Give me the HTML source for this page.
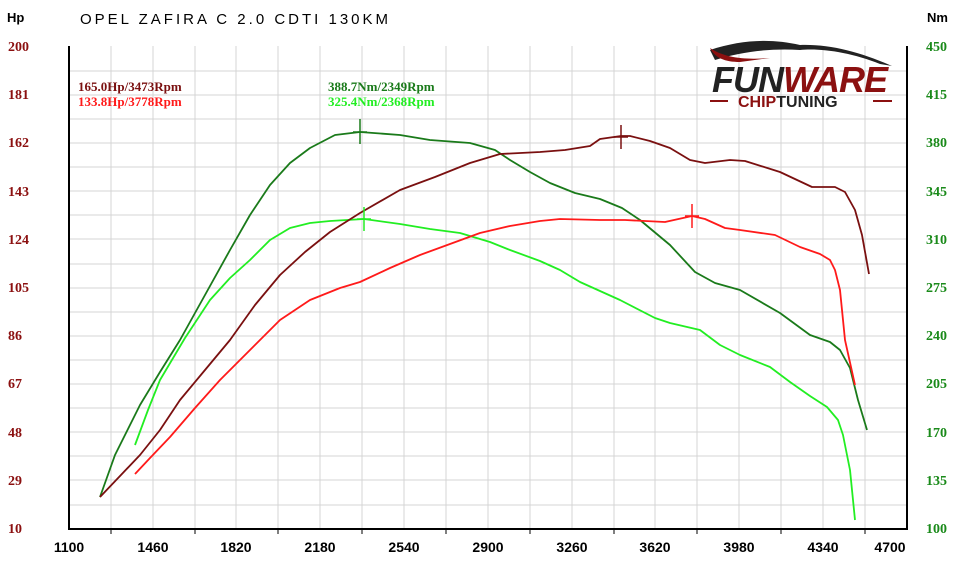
<!DOCTYPE html>
<html><head><meta charset="utf-8"><style>
body{margin:0;background:#fff;}
svg text{font-family:"Liberation Sans",sans-serif;}
</style></head><body>
<svg width="960" height="560" viewBox="0 0 960 560" xmlns="http://www.w3.org/2000/svg">
<rect width="960" height="560" fill="#fff"/>
<g stroke="#d4d4d4" stroke-width="1">
<line x1="111" y1="46" x2="111" y2="528"/><line x1="153" y1="46" x2="153" y2="528"/><line x1="195" y1="46" x2="195" y2="528"/><line x1="236" y1="46" x2="236" y2="528"/><line x1="278" y1="46" x2="278" y2="528"/><line x1="320" y1="46" x2="320" y2="528"/><line x1="362" y1="46" x2="362" y2="528"/><line x1="404" y1="46" x2="404" y2="528"/><line x1="446" y1="46" x2="446" y2="528"/><line x1="488" y1="46" x2="488" y2="528"/><line x1="530" y1="46" x2="530" y2="528"/><line x1="572" y1="46" x2="572" y2="528"/><line x1="614" y1="46" x2="614" y2="528"/><line x1="655" y1="46" x2="655" y2="528"/><line x1="697" y1="46" x2="697" y2="528"/><line x1="739" y1="46" x2="739" y2="528"/><line x1="781" y1="46" x2="781" y2="528"/><line x1="823" y1="46" x2="823" y2="528"/><line x1="865" y1="46" x2="865" y2="528"/>
<line x1="69" y1="71" x2="907" y2="71"/><line x1="69" y1="95" x2="907" y2="95"/><line x1="69" y1="119" x2="907" y2="119"/><line x1="69" y1="143" x2="907" y2="143"/><line x1="69" y1="167" x2="907" y2="167"/><line x1="69" y1="191" x2="907" y2="191"/><line x1="69" y1="215" x2="907" y2="215"/><line x1="69" y1="239" x2="907" y2="239"/><line x1="69" y1="264" x2="907" y2="264"/><line x1="69" y1="288" x2="907" y2="288"/><line x1="69" y1="312" x2="907" y2="312"/><line x1="69" y1="336" x2="907" y2="336"/><line x1="69" y1="360" x2="907" y2="360"/><line x1="69" y1="384" x2="907" y2="384"/><line x1="69" y1="408" x2="907" y2="408"/><line x1="69" y1="432" x2="907" y2="432"/><line x1="69" y1="456" x2="907" y2="456"/><line x1="69" y1="480" x2="907" y2="480"/><line x1="69" y1="505" x2="907" y2="505"/>
</g>
<g stroke="#000" stroke-width="2" fill="none">
<polyline points="69,46 69,529 907,529 907,46"/>
</g>
<g stroke="#000" stroke-width="1">
<line x1="111" y1="529" x2="111" y2="534"/><line x1="195" y1="529" x2="195" y2="534"/><line x1="278" y1="529" x2="278" y2="534"/><line x1="362" y1="529" x2="362" y2="534"/><line x1="446" y1="529" x2="446" y2="534"/><line x1="530" y1="529" x2="530" y2="534"/><line x1="614" y1="529" x2="614" y2="534"/><line x1="697" y1="529" x2="697" y2="534"/><line x1="781" y1="529" x2="781" y2="534"/><line x1="865" y1="529" x2="865" y2="534"/>
</g>
<g font-size="14" font-weight="bold" fill="#000" text-anchor="middle">
<text x="69" y="552">1100</text><text x="153" y="552">1460</text><text x="236" y="552">1820</text><text x="320" y="552">2180</text><text x="404" y="552">2540</text><text x="488" y="552">2900</text><text x="572" y="552">3260</text><text x="655" y="552">3620</text><text x="739" y="552">3980</text><text x="823" y="552">4340</text><text x="890" y="552">4700</text>
</g>
<g font-size="14" font-weight="bold" fill="#8b1010">
<text x="8" y="51" style="font-family:'Liberation Serif',serif">200</text><text x="8" y="99" style="font-family:'Liberation Serif',serif">181</text><text x="8" y="147" style="font-family:'Liberation Serif',serif">162</text><text x="8" y="196" style="font-family:'Liberation Serif',serif">143</text><text x="8" y="244" style="font-family:'Liberation Serif',serif">124</text><text x="8" y="292" style="font-family:'Liberation Serif',serif">105</text><text x="8" y="340" style="font-family:'Liberation Serif',serif">86</text><text x="8" y="388" style="font-family:'Liberation Serif',serif">67</text><text x="8" y="437" style="font-family:'Liberation Serif',serif">48</text><text x="8" y="485" style="font-family:'Liberation Serif',serif">29</text><text x="8" y="533" style="font-family:'Liberation Serif',serif">10</text>
</g>
<g font-size="14" font-weight="bold" fill="#1a8a1a">
<text x="926" y="51" style="font-family:'Liberation Serif',serif">450</text><text x="926" y="99" style="font-family:'Liberation Serif',serif">415</text><text x="926" y="147" style="font-family:'Liberation Serif',serif">380</text><text x="926" y="196" style="font-family:'Liberation Serif',serif">345</text><text x="926" y="244" style="font-family:'Liberation Serif',serif">310</text><text x="926" y="292" style="font-family:'Liberation Serif',serif">275</text><text x="926" y="340" style="font-family:'Liberation Serif',serif">240</text><text x="926" y="388" style="font-family:'Liberation Serif',serif">205</text><text x="926" y="437" style="font-family:'Liberation Serif',serif">170</text><text x="926" y="485" style="font-family:'Liberation Serif',serif">135</text><text x="926" y="533" style="font-family:'Liberation Serif',serif">100</text>
</g>
<text x="7" y="22" font-size="13" font-weight="bold">Hp</text>
<text x="927" y="22" font-size="13" font-weight="bold">Nm</text>
<text x="80" y="24" font-size="15" letter-spacing="3" fill="#000">OPEL ZAFIRA C 2.0 CDTI 130KM</text>
<g font-size="13" font-weight="bold">
<text x="78" y="91" fill="#7a1010" style="font-family:'Liberation Serif',serif">165.0Hp/3473Rpm</text>
<text x="78" y="106" fill="#ff1a1a" style="font-family:'Liberation Serif',serif">133.8Hp/3778Rpm</text>
<text x="328" y="91" fill="#1a7a1a" style="font-family:'Liberation Serif',serif">388.7Nm/2349Rpm</text>
<text x="328" y="106" fill="#22ee22" style="font-family:'Liberation Serif',serif">325.4Nm/2368Rpm</text>
</g>
<path d="M710,50 C740,40 770,38 800,45 C830,44 860,52 892,66 L880,64 C850,52 820,48 800,50 C770,48 740,52 715,60 Z" fill="#222"/>
<path d="M710,48 C725,58 745,60 770,58 L740,62 C725,62 715,58 710,48 Z" fill="#8b1010"/>
<text x="712" y="92" font-size="36" font-weight="bold" font-style="italic" fill="#222" letter-spacing="-1">FUN<tspan fill="#8b1010">WARE</tspan></text>
<text x="738" y="107" font-size="16" font-weight="bold" fill="#8b1010">CHIP<tspan fill="#222">TUNING</tspan></text>
<line x1="710" y1="101" x2="728" y2="101" stroke="#8b1010" stroke-width="2"/>
<line x1="873" y1="101" x2="892" y2="101" stroke="#8b1010" stroke-width="2"/>
<g fill="none" stroke-width="1.8" stroke-linejoin="round">
<polyline stroke="#22ee22" points="135,445 148,410 160,380 185,338 210,300 230,278 250,260 270,240 290,228 310,223 330,221 364,219 400,224 430,229 460,233 490,242 510,250 540,261 560,270 580,282 600,291 620,300 655,318 670,323 700,330 720,345 740,355 770,367 790,382 810,396 827,407 838,420 843,435 850,470 855,520"/>
<polyline stroke="#1a7a1a" points="100,497 115,455 140,405 160,372 180,340 205,295 230,250 250,215 270,185 290,163 310,148 335,135 360,132 400,135 430,140 470,143 495,150 510,160 530,172 550,183 575,193 600,199 622,208 640,220 670,245 695,272 715,283 740,290 780,313 810,335 830,342 840,350 850,368 858,400 867,430"/>
<polyline stroke="#ff1a1a" points="135,474 150,458 170,437 195,408 220,380 250,350 280,320 310,300 340,288 360,282 390,268 420,255 450,244 480,233 510,226 540,221 560,219 600,220 625,220 665,222 692,216 705,219 725,228 740,230 775,235 800,247 820,254 830,260 835,270 840,290 845,340 855,385"/>
<polyline stroke="#7a1010" points="100,497 120,476 140,455 160,430 180,400 205,370 230,340 255,305 280,275 305,252 330,232 360,213 400,190 435,177 470,163 500,154 540,152 565,150 590,146 600,139 621,136 630,136 650,141 670,148 690,160 705,163 730,160 745,161 780,172 812,187 835,187 845,192 855,210 862,235 869,274"/>
</g>
<g stroke-width="1.5">
<line x1="621" y1="125" x2="621" y2="149" stroke="#7a1010"/><line x1="614" y1="137" x2="628" y2="137" stroke="#7a1010"/>
<line x1="692" y1="204" x2="692" y2="228" stroke="#ff1a1a"/><line x1="685" y1="216" x2="699" y2="216" stroke="#ff1a1a"/>
<line x1="360" y1="119" x2="360" y2="144" stroke="#1a7a1a"/><line x1="353" y1="132" x2="367" y2="132" stroke="#1a7a1a"/>
<line x1="364" y1="207" x2="364" y2="231" stroke="#22ee22"/><line x1="357" y1="219" x2="371" y2="219" stroke="#22ee22"/>
</g>
</svg>
</body></html>
